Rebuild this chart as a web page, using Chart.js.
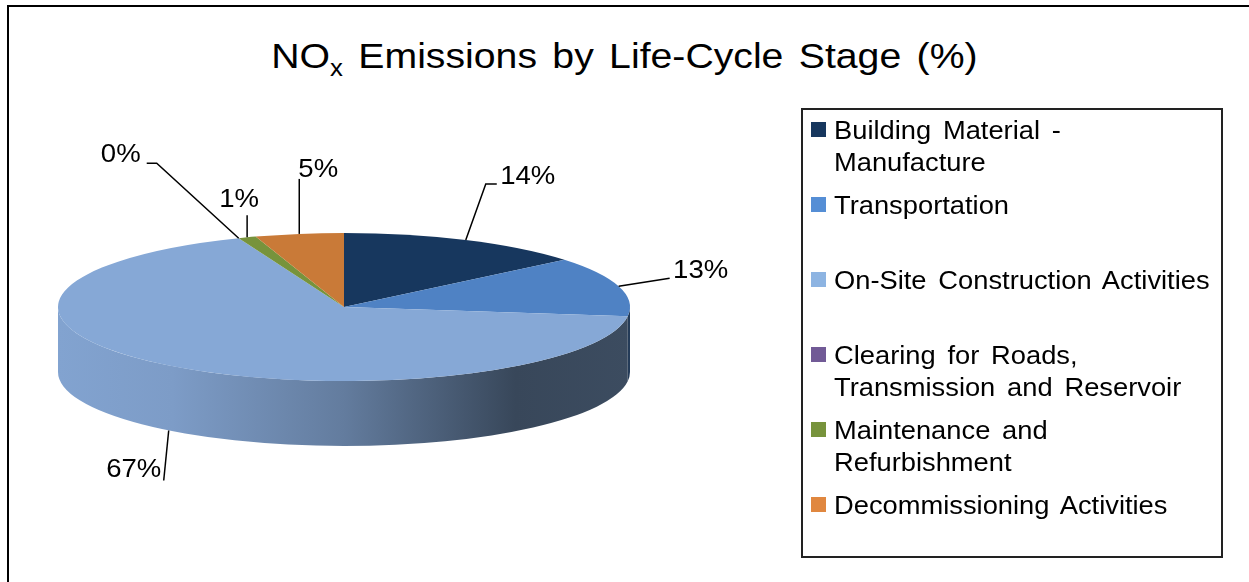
<!DOCTYPE html>
<html>
<head>
<meta charset="utf-8">
<script src="https://cdn.jsdelivr.net/npm/chart.js@4.4.0/dist/chart.umd.min.js"></script>
<style>
  html, body { margin: 0; padding: 0; background: #fff; }
  body {
    width: 1249px; height: 582px; position: relative; overflow: hidden;
    font-family: "Liberation Sans", Arial, sans-serif; color: #000;
  }
  #frame { position: absolute; left: 7px; top: 5px; width: 1300px; height: 700px; border: 2px solid #000; }
  #title {
    position: absolute; left: 0; top: 36px; width: 1249px; text-align: center;
    font-size: 35px; line-height: 40px; word-spacing: 4px; white-space: nowrap;
    transform: scaleX(1.12); transform-origin: 625px 0;
  }
  #title sub { font-size: 23px; vertical-align: -8px; line-height: 0; word-spacing: 0; }
  #chart { position: absolute; left: 0; top: 0; }
  #legend {
    position: absolute; left: 801px; top: 108px; width: 418px; height: 446px;
    border: 2px solid #222;
  }
  .item { position: absolute; left: 8px; font-size: 26px; line-height: 32px; word-spacing: 4px; }
  .swatch { position: absolute; left: 0; top: 8px; width: 15px; height: 15px; }
  .text { position: absolute; left: 23px; white-space: pre; transform: scaleX(1.05); transform-origin: 0 0; }
</style>
</head>
<body>
<div id="frame"></div>
<div id="title">NO<sub>x</sub> Emissions by Life-Cycle Stage (%)</div>
<canvas id="chart" width="1249" height="582"></canvas>
<div id="legend"></div>

<script>
// data
const stages = [
  "Building Material -\nManufacture",
  "Transportation",
  "On-Site Construction Activities",
  "Clearing for Roads,\nTransmission and Reservoir",
  "Maintenance and\nRefurbishment",
  "Decommissioning Activities",
];
const shares = [14, 13, 67, 0, 1, 5];

// colours: pie top faces, legend swatches
const sliceColors = ["#17375E", "#4F82C4", "#86A8D6", "#8064A2", "#77933C", "#C97A38"];
const legendColors = ["#17375E", "#558ED5", "#8DB4E2", "#715A96", "#77933C", "#E0873F"];

// 3D look
const PIE_RX = 286;
const PIE_RY = 74;
const DEPTH = 65;
const SIDE_SHADE = [[0, 0.97], [0.2, 0.93], [0.5, 0.74], [0.8, 0.42], [1, 0.45]];

// label layout relative to the slice anchor: text centre and leader polyline
const labelLayout = [
  { text: [62, -65], leader: [[0, 0], [20, -56], [31, -56]] },
  { text: [82, -17], leader: [[0, 0], [51, -8]] },
  { text: [-35, 38], leader: [[0, 0], [-5, 50]] },
  { text: [-118, -85], leader: [[0, 0], [-82, -75], [-92, -75]] },
  { text: [-8, -39], leader: [[0, 0], [0, -22]] },
  { text: [19, -66], leader: [[0, 0], [0, -55]] },
];

function shade(hex, k) {
  const n = parseInt(hex.slice(1), 16);
  const r = Math.round(((n >> 16) & 255) * k);
  const g = Math.round(((n >> 8) & 255) * k);
  const b = Math.round((n & 255) * k);
  return `rgb(${r},${g},${b})`;
}

// legend
const legend = document.getElementById("legend");
stages.forEach((s, i) => {
  const item = document.createElement("div");
  item.className = "item";
  item.style.top = 4 + i * 75 + "px";
  item.innerHTML = `<div class="swatch" style="background:${legendColors[i]}"></div><div class="text"></div>`;
  item.querySelector(".text").textContent = s;
  legend.appendChild(item);
});

const pie3d = {
  id: "pie3d",
  beforeDatasetsDraw(chart) {
    const { ctx } = chart;
    const arcs = chart.getDatasetMeta(0).data;
    const { x: cx, y: cy, outerRadius } = arcs[0];

    // front walls
    arcs.forEach((arc, i) => {
      const a0 = Math.max(arc.startAngle, 0);
      const a1 = Math.min(arc.endAngle, Math.PI);
      if (a1 <= a0) return;
      const grad = ctx.createLinearGradient(cx - PIE_RX, 0, cx + PIE_RX, 0);
      SIDE_SHADE.forEach(([stop, k]) => grad.addColorStop(stop, shade(sliceColors[i], k)));
      ctx.beginPath();
      ctx.ellipse(cx, cy, PIE_RX, PIE_RY, 0, a0, a1, false);
      ctx.ellipse(cx, cy + DEPTH, PIE_RX, PIE_RY, 0, a1, a0, true);
      ctx.closePath();
      ctx.fillStyle = grad;
      ctx.fill();
    });

    // squash the round pie into the top ellipse
    ctx.save();
    ctx.translate(cx, cy);
    ctx.scale(PIE_RX / outerRadius, PIE_RY / outerRadius);
    ctx.translate(-cx, -cy);
  },
  afterDatasetsDraw(chart) {
    const { ctx } = chart;
    ctx.restore();
    const arcs = chart.getDatasetMeta(0).data;
    ctx.save();
    ctx.strokeStyle = "#000";
    ctx.lineWidth = 1.5;
    ctx.fillStyle = "#000";
    ctx.font = '26px "Liberation Sans", Arial, sans-serif';
    ctx.textAlign = "center";
    ctx.textBaseline = "alphabetic";
    arcs.forEach((arc, i) => {
      const mid = (arc.startAngle + arc.endAngle) / 2;
      const ax = arc.x + PIE_RX * Math.cos(mid);
      const ay = arc.y + PIE_RY * Math.sin(mid) + (Math.sin(mid) > 0 ? DEPTH : 0);
      const lay = labelLayout[i];
      ctx.beginPath();
      lay.leader.forEach(([dx, dy], j) => {
        if (j === 0) ctx.moveTo(ax + dx, ay + dy);
        else ctx.lineTo(ax + dx, ay + dy);
      });
      ctx.stroke();
      ctx.save();
      ctx.translate(ax + lay.text[0], ay + lay.text[1] + 9);
      ctx.scale(1.06, 1);
      ctx.fillText(shares[i] + "%", 0, 0);
      ctx.restore();
    });
    ctx.restore();
  },
};

new Chart(document.getElementById("chart"), {
  type: "pie",
  data: {
    labels: stages.map((s) => s.replace("\n", " ")),
    datasets: [
      {
        data: shares,
        backgroundColor: sliceColors,
        borderWidth: 0,
        hoverOffset: 0,
        clip: false,
      },
    ],
  },
  options: {
    responsive: false,
    animation: false,
    events: [],
    layout: { padding: { left: 194, right: 755, top: 157, bottom: 125 } },
    plugins: {
      legend: { display: false },
      title: { display: false },
      tooltip: { enabled: false },
    },
  },
  plugins: [pie3d],
});
</script>
</body>
</html>
